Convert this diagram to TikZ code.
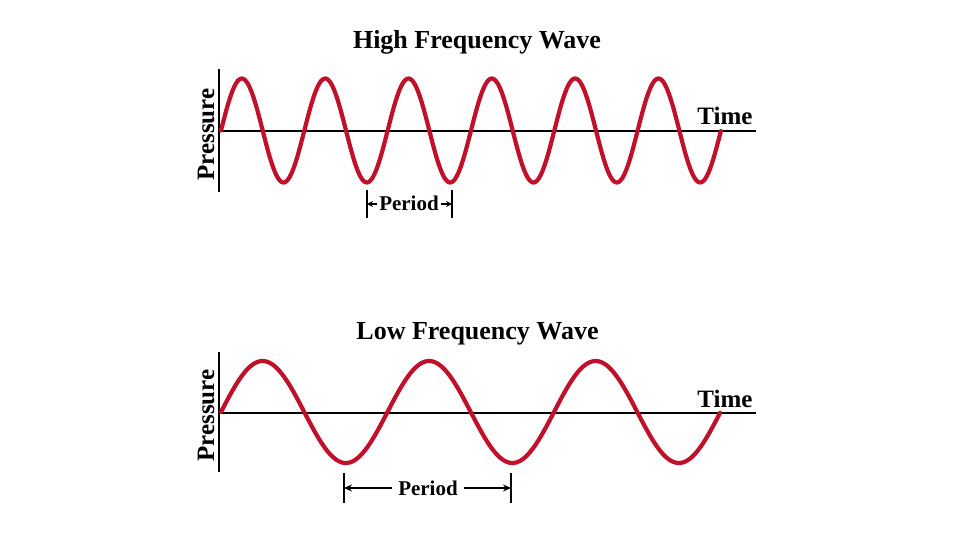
\documentclass[tikz,border=0pt]{standalone}
\usepackage{fontspec}
\setmainfont{Liberation Serif}
\usetikzlibrary{arrows.meta}
\definecolor{wavered}{RGB}{192,16,42}
\begin{document}
\begin{tikzpicture}[x=1pt,y=-1pt,
  wave/.style={wavered, line width=4.2pt, line join=round, line cap=round},
  axisline/.style={black, line width=2.3pt},
  ttl/.style={font=\fontsize{26}{26}\selectfont\bfseries, anchor=base, inner sep=0pt},
  lbl/.style={font=\fontsize{25}{25}\selectfont\bfseries, anchor=base, inner sep=0pt},
  per/.style={font=\fontsize{21}{21}\selectfont\bfseries, inner sep=2pt},
  dimarrow/.style={black, line width=1.4pt, -{Stealth[length=8pt,width=7pt]}},
  tickline/.style={black, line width=1.8pt}]
\useasboundingbox (0,0) rectangle (960,540);
\fill[white] (0,0) rectangle (960,540);

% ---------- High frequency ----------
\node[ttl] (t1) at (477,49) {High Frequency Wave};
\coordinate (v1top) at (219,69);
\coordinate (v1bot) at (219,192);
\coordinate (o1) at (219,131);
\coordinate (e1) at (756,131);
\draw[axisline] (v1top) -- (v1bot);
\draw[axisline] (o1) -- (e1);
\node[lbl, rotate=90] (p1) at (214,134.5) {Pressure};
\node[lbl] (time1) at (725,125) {Time};
\draw[wave] plot[domain=0:6, samples=360, smooth] ({221+83.33*\x},{130.5-52*sin(360*\x)});
\node[per, anchor=base] (per1) at (409,210) {Period};
\coordinate (k1l) at (367,204);
\coordinate (k1r) at (452,204);
\draw[tickline] ([yshift=14pt]k1l) -- ([yshift=-14pt]k1l);
\draw[tickline] ([yshift=14pt]k1r) -- ([yshift=-14pt]k1r);
\draw[dimarrow, -{Stealth[length=6pt,width=6pt]}] (per1.west |- k1l) -- (k1l);
\draw[dimarrow, -{Stealth[length=6pt,width=6pt]}] (per1.east |- k1r) -- (k1r);

% ---------- Low frequency ----------
\node[ttl] (t2) at (477.5,339) {Low Frequency Wave};
\coordinate (v2top) at (219,352);
\coordinate (v2bot) at (219,472);
\coordinate (o2) at (219,413);
\coordinate (e2) at (756,413);
\draw[axisline] (v2top) -- (v2bot);
\draw[axisline] (o2) -- (e2);
\node[lbl, rotate=90] (p2) at (214,415.5) {Pressure};
\node[lbl] (time2) at (725,407) {Time};
\draw[wave] plot[domain=0:3, samples=300, smooth] ({221+166.5*\x},{412-51*sin(360*\x)});
\node[per, anchor=base, inner xsep=6pt] (per2) at (428,495) {Period};
\coordinate (k2l) at (344,488);
\coordinate (k2r) at (511,488);
\draw[tickline] ([yshift=15pt]k2l) -- ([yshift=-15pt]k2l);
\draw[tickline] ([yshift=15pt]k2r) -- ([yshift=-15pt]k2r);
\draw[dimarrow] (per2.west |- k2l) -- (k2l);
\draw[dimarrow] (per2.east |- k2r) -- (k2r);
\end{tikzpicture}
\end{document}
